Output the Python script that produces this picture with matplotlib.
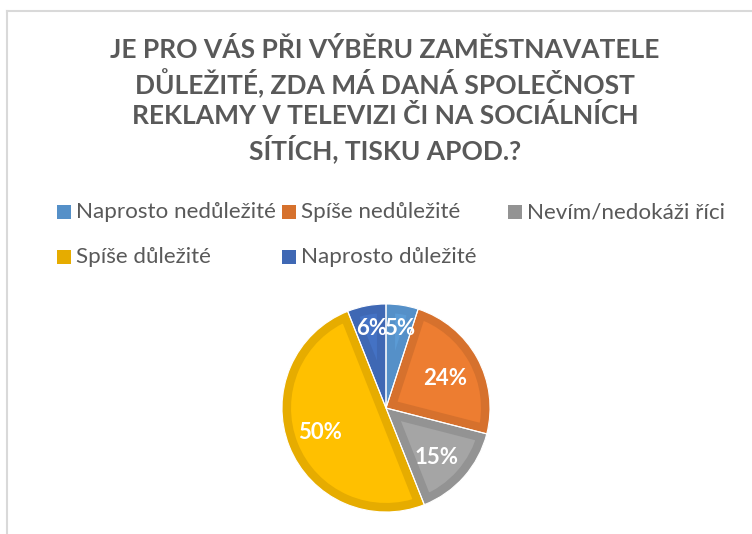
import matplotlib
matplotlib.use("Agg")
import matplotlib.pyplot as plt
from matplotlib.patches import Rectangle, Wedge
from matplotlib.lines import Line2D

categories = ["Naprosto nedůležité", "Spíše nedůležité", "Nevím/nedokáži říci",
              "Spíše důležité", "Naprosto důležité"]
values = [5, 24, 15, 50, 6]
labels = ["5%", "24%", "15%", "50%", "6%"]
title_lines = ["JE PRO VÁS PŘI VÝBĚRU ZAMĚSTNAVATELE",
               "DŮLEŽITÉ, ZDA MÁ DANÁ SPOLEČNOST",
               "REKLAMY V TELEVIZI ČI NA SOCIÁLNÍCH",
               "SÍTÍCH, TISKU APOD.?"]

fill_colors = ["#5B9BD5", "#ED7D31", "#A5A5A5", "#FFC000", "#4472C4"]
border_colors = ["#5590C8", "#D6712D", "#939393", "#E6AC00", "#3F68B4"]

W, H = 752, 534
fig = plt.figure(figsize=(W / 100, H / 100), dpi=100)
fig.patch.set_facecolor("white")

def fx(x):
    return x / W

def fy(y):
    return 1 - y / H

# chart border (top and left visible)
fig.add_artist(Line2D([fx(7), fx(760)], [fy(11), fy(11)], color="#D9D9D9", lw=1.5))
fig.add_artist(Line2D([fx(7), fx(7)], [fy(11), fy(540)], color="#D9D9D9", lw=1.5))

font = "Lato"
text_color = "#595959"

# title
title_y = [50, 83, 116, 149]
for line, yy in zip(title_lines, title_y):
    fig.text(fx(385), fy(yy), line, ha="center", va="center", fontsize=19,
             fontweight="bold", color=text_color, family=font)

# legend
leg_items = [(57, 212), (282, 212), (508, 212), (57, 257), (282, 257)]
for (lx, ly), name, col in zip(leg_items, categories, border_colors):
    fig.add_artist(Rectangle((fx(lx), fy(ly + 7)), 14 / W, 14 / H,
                             facecolor=col, edgecolor="none", transform=fig.transFigure))
    fig.text(fx(lx + 19), fy(ly), name, ha="left", va="center", fontsize=16.1,
             color=text_color, family=font)

# pie
cx, cy, r = 386, 408, 104
ax = fig.add_axes([fx(cx - r), fy(cy + r), 2 * r / W, 2 * r / H])
wedges, _ = ax.pie(values, colors=fill_colors, startangle=90, counterclock=False,
                   radius=1, wedgeprops=dict(linewidth=13))
ax.set_xlim(-1, 1)
ax.set_ylim(-1, 1)
ax.set_aspect("equal")
ax.axis("off")
for w, bc in zip(wedges, border_colors):
    w.set_edgecolor(bc)
    w.set_joinstyle("miter")
    clip = Wedge(w.center, w.r, w.theta1, w.theta2, transform=ax.transData)
    w.set_clip_on(True)
    w.set_clip_path(clip)

sep, _ = ax.pie(values, startangle=90, counterclock=False, radius=1,
                wedgeprops=dict(facecolor="none", edgecolor="white", linewidth=0.8))
ax.set_xlim(-1, 1)
ax.set_ylim(-1, 1)

label_pos = [(0.135, 0.76), (0.567, 0.28), (0.49, -0.48), (-0.635, -0.24), (-0.135, 0.76)]
for (tx, ty), lab in zip(label_pos, labels):
    ax.text(tx, ty, lab, ha="center", va="center", fontsize=16, fontweight="bold",
            color="white", family=font)

fig.savefig("out.png", dpi=100, facecolor="white")
